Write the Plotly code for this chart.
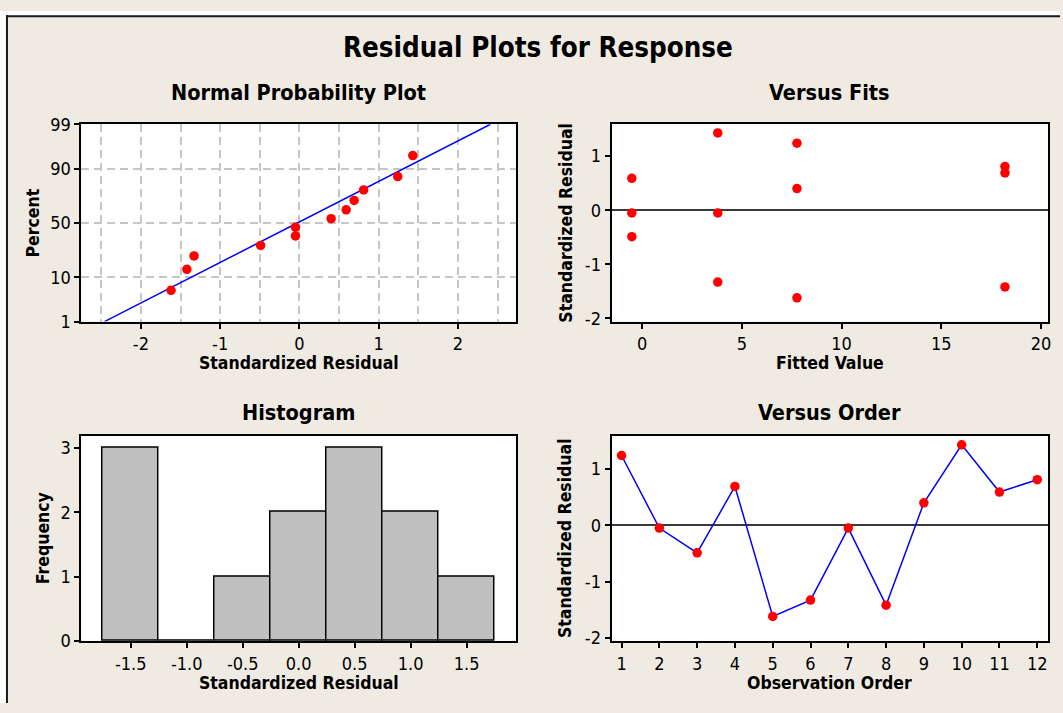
import plotly.graph_objects as go
from statistics import NormalDist

# ---------------- data ----------------
observation_order = list(range(1, 13))
std_residuals = [1.24, -0.05, -0.49, 0.69, -1.62, -1.33, -0.05, -1.42, 0.40, 1.43, 0.59, 0.81]
fitted_values = [7.76, -0.52, -0.52, 18.19, 7.76, 3.79, 3.79, 18.19, 7.76, 3.79, -0.52, 18.19]

npp_percent = [5.6, 13.7, 21.8, 29.8, 37.9, 46.0, 54.0, 62.1, 70.2, 78.2, 86.3, 94.4]
npp_fit_x = [-2.46, 2.41]
npp_fit_percent = [1, 99]
percent_ticks = [1, 10, 50, 90, 99]

hist_bin_centers = [-1.5, -1.0, -0.5, 0.0, 0.5, 1.0, 1.5]
hist_counts = [3, 0, 1, 2, 3, 2, 1]
hist_bin_width = 0.5

fit_ticks = [0, 5, 10, 15, 20]
resid_ticks = [-2, -1, 0, 1]
resid_tick_labels = ["-2", "-1", "0", "1"]
npp_x_ticks = [-2, -1, 0, 1, 2]
npp_x_tick_labels = ["-2", "-1", "0", "1", "2"]
hist_x_ticks = [-1.5, -1.0, -0.5, 0.0, 0.5, 1.0, 1.5]
hist_x_tick_labels = ["-1.5", "-1.0", "-0.5", "0.0", "0.5", "1.0", "1.5"]
freq_ticks = [0, 1, 2, 3]

# ---------------- helpers ----------------
W, H = 1063, 713
nd = NormalDist()


def z(p):
    return nd.inv_cdf(p / 100.0)


def px_x(v):
    return v / W


def px_y(v):
    return 1 - v / H


FONT = "DejaVu Sans Condensed, DejaVu Sans, sans-serif"
RED = "#FF0000"
BLUE = "#0000FF"
BEIGE = "#EFEBE2"

npp_x = sorted(std_residuals)

fig = go.Figure()

# Normal probability plot
fig.add_trace(go.Scatter(x=npp_fit_x, y=[z(p) for p in npp_fit_percent], mode="lines",
                         line=dict(color=BLUE, width=1.5), xaxis="x", yaxis="y", showlegend=False))
fig.add_trace(go.Scatter(x=npp_x, y=[z(p) for p in npp_percent], mode="markers",
                         marker=dict(color=RED, size=9.5), xaxis="x", yaxis="y", showlegend=False))

# Versus fits
fig.add_trace(go.Scatter(x=fitted_values, y=std_residuals, mode="markers",
                         marker=dict(color=RED, size=9.5), xaxis="x2", yaxis="y2", showlegend=False))

# Histogram
fig.add_trace(go.Bar(x=hist_bin_centers, y=hist_counts, width=hist_bin_width,
                     marker=dict(color="#C0C0C0", line=dict(color="black", width=1.5)),
                     xaxis="x3", yaxis="y3", showlegend=False))

# Versus order
fig.add_trace(go.Scatter(x=observation_order, y=std_residuals, mode="lines+markers",
                         line=dict(color=BLUE, width=1.5),
                         marker=dict(color=RED, size=9.5), xaxis="x4", yaxis="y4", showlegend=False))

left_dom = [px_x(81.7), px_x(517.3)]
right_dom = [px_x(613.3), px_x(1051)]
top_dom = [px_y(320), px_y(116.7)]
bot_dom = [px_y(649.3), px_y(437.7)]

tickfont = dict(family=FONT, size=18, color="black")
base_axis = dict(showline=True, mirror=True, linecolor="black", linewidth=2,
                 ticks="outside", ticklen=5, tickwidth=1.5, tickcolor="black",
                 showgrid=False, zeroline=False, tickfont=tickfont)

grid_kw = dict(showgrid=True, gridcolor="#C6C6C6", gridwidth=1.5, griddash="8px,5px")

fig.update_layout(
    width=W, height=H, autosize=False,
    margin=dict(l=0, r=0, t=0, b=0),
    paper_bgcolor=BEIGE, plot_bgcolor="white",
    font=dict(family=FONT, color="black"),
    bargap=0,
    xaxis=dict(base_axis, domain=left_dom, anchor="y", range=[-2.75, 2.73],
               tickvals=npp_x_ticks, ticktext=npp_x_tick_labels, **grid_kw,
               minor=dict(dtick=0.5, tick0=0, showgrid=True, gridcolor="#C6C6C6",
                          gridwidth=1.5, griddash="8px,5px")),
    yaxis=dict(base_axis, domain=top_dom, anchor="x", range=[z(1), z(99)],
               tickvals=[z(p) for p in percent_ticks], ticktext=[str(p) for p in percent_ticks],
               **grid_kw),
    xaxis2=dict(base_axis, domain=right_dom, anchor="y2", range=[-1.535, 20.35],
                tickvals=fit_ticks),
    yaxis2=dict(base_axis, domain=top_dom, anchor="x2", range=[-2.06, 1.59],
                tickvals=resid_ticks, ticktext=resid_tick_labels,
                zeroline=True, zerolinecolor="#3A3A3A", zerolinewidth=1.5),
    xaxis3=dict(base_axis, domain=left_dom, anchor="y3", range=[-1.94, 1.94],
                tickvals=hist_x_ticks, ticktext=hist_x_tick_labels),
    yaxis3=dict(base_axis, domain=bot_dom, anchor="x3", range=[0, 3.185],
                tickvals=freq_ticks),
    xaxis4=dict(base_axis, domain=right_dom, anchor="y4", range=[0.736, 12.285],
                tickvals=observation_order),
    yaxis4=dict(base_axis, domain=bot_dom, anchor="x4", range=[-2.06, 1.59],
                tickvals=resid_ticks, ticktext=resid_tick_labels,
                zeroline=True, zerolinecolor="#3A3A3A", zerolinewidth=1.5),
)

ann = []


def add_text(text, x, y, size, angle=0):
    ann.append(dict(text="<b>%s</b>" % text, x=px_x(x), y=px_y(y), xref="paper", yref="paper",
                    showarrow=False, xanchor="center", yanchor="middle", textangle=angle,
                    font=dict(family=FONT, size=size, color="black")))


add_text("Residual Plots for Response", 540, 37, 27.5)
add_text("Normal Probability Plot", 299.5, 84, 21.5)
add_text("Versus Fits", 832, 84, 21.5)
add_text("Histogram", 299.5, 414, 21.5)
add_text("Versus Order", 832, 414, 21.5)
add_text("Standardized Residual", 299.5, 363, 17.5)
add_text("Fitted Value", 832, 363, 17.5)
add_text("Standardized Residual", 299.5, 692, 17.5)
add_text("Observation Order", 832, 692, 17.5)
add_text("Percent", 33, 218, 17.5, -90)
add_text("Standardized Residual", 566.7, 218, 17.5, -90)
add_text("Frequency", 43.3, 543, 17.5, -90)
add_text("Standardized Residual", 566.7, 543, 17.5, -90)

fig.update_layout(annotations=ann)

# outer frame: white strip on top and left, black frame border
shapes = [
    dict(type="rect", xref="paper", yref="paper", x0=0, x1=1, y0=px_y(4.5), y1=1,
         fillcolor="white", line=dict(width=0), layer="above"),
    dict(type="rect", xref="paper", yref="paper", x0=0, x1=px_x(6), y0=0, y1=1,
         fillcolor="white", line=dict(width=0), layer="above"),
    dict(type="line", xref="paper", yref="paper", x0=px_x(6), x1=1, y0=px_y(5.5), y1=px_y(5.5),
         line=dict(color="#1A1A1A", width=2), layer="above"),
    dict(type="line", xref="paper", yref="paper", x0=px_x(7), x1=px_x(7), y0=0, y1=px_y(4.5),
         line=dict(color="#1A1A1A", width=2), layer="above"),
]
fig.update_layout(shapes=shapes)

fig.write_html("out.html")
